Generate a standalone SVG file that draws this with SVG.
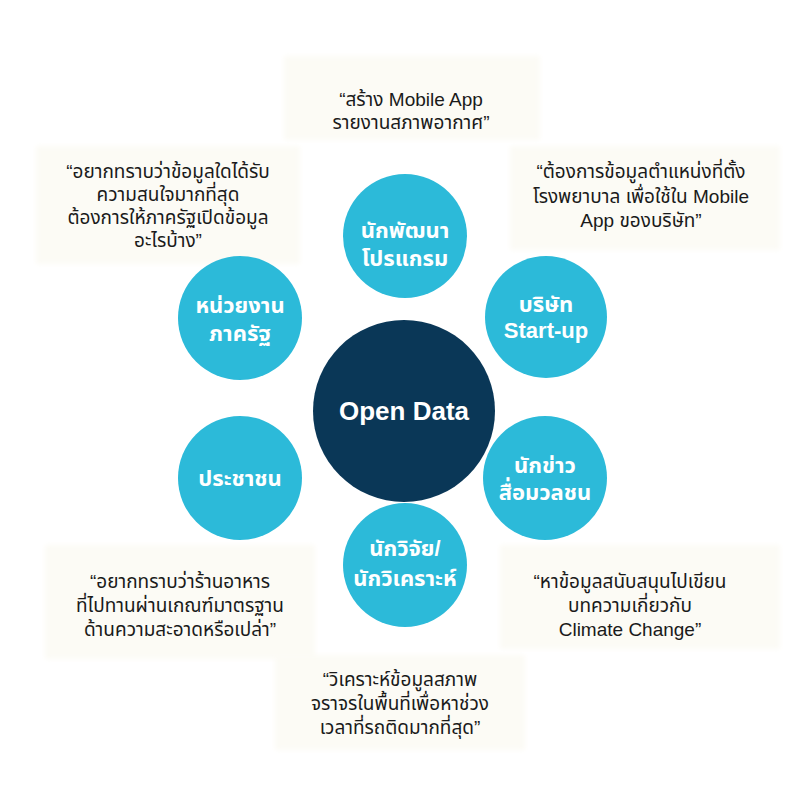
<svg xmlns="http://www.w3.org/2000/svg" width="800" height="803" viewBox="0 0 800 803">
<defs>
<filter id="soft" x="-10%" y="-10%" width="120%" height="120%"><feGaussianBlur stdDeviation="2.5"/></filter>
</defs>
<style>
.box{fill:#fcfbf5;filter:url(#soft)}
.q{font-family:"Liberation Sans","Noto Sans Thai","Noto Sans",sans-serif;font-size:19px;fill:#1a1a1a;text-anchor:middle}
.c{fill:#2cbad9}
.ct{font-family:"Liberation Sans","Noto Sans Thai","Noto Sans",sans-serif;font-size:22px;font-weight:bold;fill:#ffffff;text-anchor:middle}
.hub{fill:#0a3757}
.ht{font-family:"Liberation Sans","Noto Sans",sans-serif;font-size:26px;font-weight:bold;fill:#ffffff;text-anchor:middle}
</style>
<rect width="800" height="803" fill="#ffffff"/>
<g id="connectors"/>
<g id="quote-top">
<rect class="box" x="284" y="56" width="256" height="84"/>
<text class="q" x="411" y="106">“สร้าง Mobile App</text>
<text class="q" x="411" y="129">รายงานสภาพอากาศ”</text>
</g>
<g id="quote-top-left">
<rect class="box" x="36" y="146" width="264" height="118"/>
<text class="q" x="168" y="178">“อยากทราบว่าข้อมูลใดได้รับ</text>
<text class="q" x="168" y="201">ความสนใจมากที่สุด</text>
<text class="q" x="168" y="224">ต้องการให้ภาครัฐเปิดข้อมูล</text>
<text class="q" x="168" y="247">อะไรบ้าง”</text>
</g>
<g id="quote-top-right">
<rect class="box" x="510" y="146" width="270" height="104"/>
<text class="q" x="641" y="178">“ต้องการข้อมูลตำแหน่งที่ตั้ง</text>
<text class="q" x="641" y="203">โรงพยาบาล เพื่อใช้ใน Mobile</text>
<text class="q" x="641" y="227">App ของบริษัท”</text>
</g>
<g id="quote-bottom-left">
<rect class="box" x="45" y="545" width="270" height="114"/>
<text class="q" x="180" y="588">“อยากทราบว่าร้านอาหาร</text>
<text class="q" x="180" y="612">ที่ไปทานผ่านเกณฑ์มาตรฐาน</text>
<text class="q" x="180" y="636">ด้านความสะอาดหรือเปล่า”</text>
</g>
<g id="quote-bottom-right">
<rect class="box" x="500" y="545" width="280" height="104"/>
<text class="q" x="630" y="588">“หาข้อมูลสนับสนุนไปเขียน</text>
<text class="q" x="630" y="612">บทความเกี่ยวกับ</text>
<text class="q" x="630" y="636">Climate Change”</text>
</g>
<g id="quote-bottom">
<rect class="box" x="275" y="655" width="250" height="95"/>
<text class="q" x="400" y="686">“วิเคราะห์ข้อมูลสภาพ</text>
<text class="q" x="400" y="710">จราจรในพื้นที่เพื่อหาช่วง</text>
<text class="q" x="400" y="734">เวลาที่รถติดมากที่สุด”</text>
</g>
<g id="hub">
<circle class="hub" cx="404" cy="411" r="91"/>
<text class="ht" x="404" y="420">Open Data</text>
</g>
<g id="developer">
<circle class="c" cx="405" cy="236" r="62"/>
<text class="ct" x="405" y="238">นักพัฒนา</text>
<text class="ct" x="405" y="266">โปรแกรม</text>
</g>
<g id="startup">
<circle class="c" cx="546" cy="317" r="61"/>
<text class="ct" x="546" y="312">บริษัท</text>
<text class="ct" x="546" y="338">Start-up</text>
</g>
<g id="media">
<circle class="c" cx="545" cy="478" r="62"/>
<text class="ct" x="545" y="473">นักข่าว</text>
<text class="ct" x="545" y="500">สื่อมวลชน</text>
</g>
<g id="researcher">
<circle class="c" cx="405" cy="565" r="62"/>
<text class="ct" x="405" y="556">นักวิจัย/</text>
<text class="ct" x="405" y="586">นักวิเคราะห์</text>
</g>
<g id="citizen">
<circle class="c" cx="240" cy="478" r="62"/>
<text class="ct" x="240" y="486">ประชาชน</text>
</g>
<g id="government">
<circle class="c" cx="240" cy="318" r="62"/>
<text class="ct" x="240" y="313">หน่วยงาน</text>
<text class="ct" x="240" y="341">ภาครัฐ</text>
</g>
</svg>
